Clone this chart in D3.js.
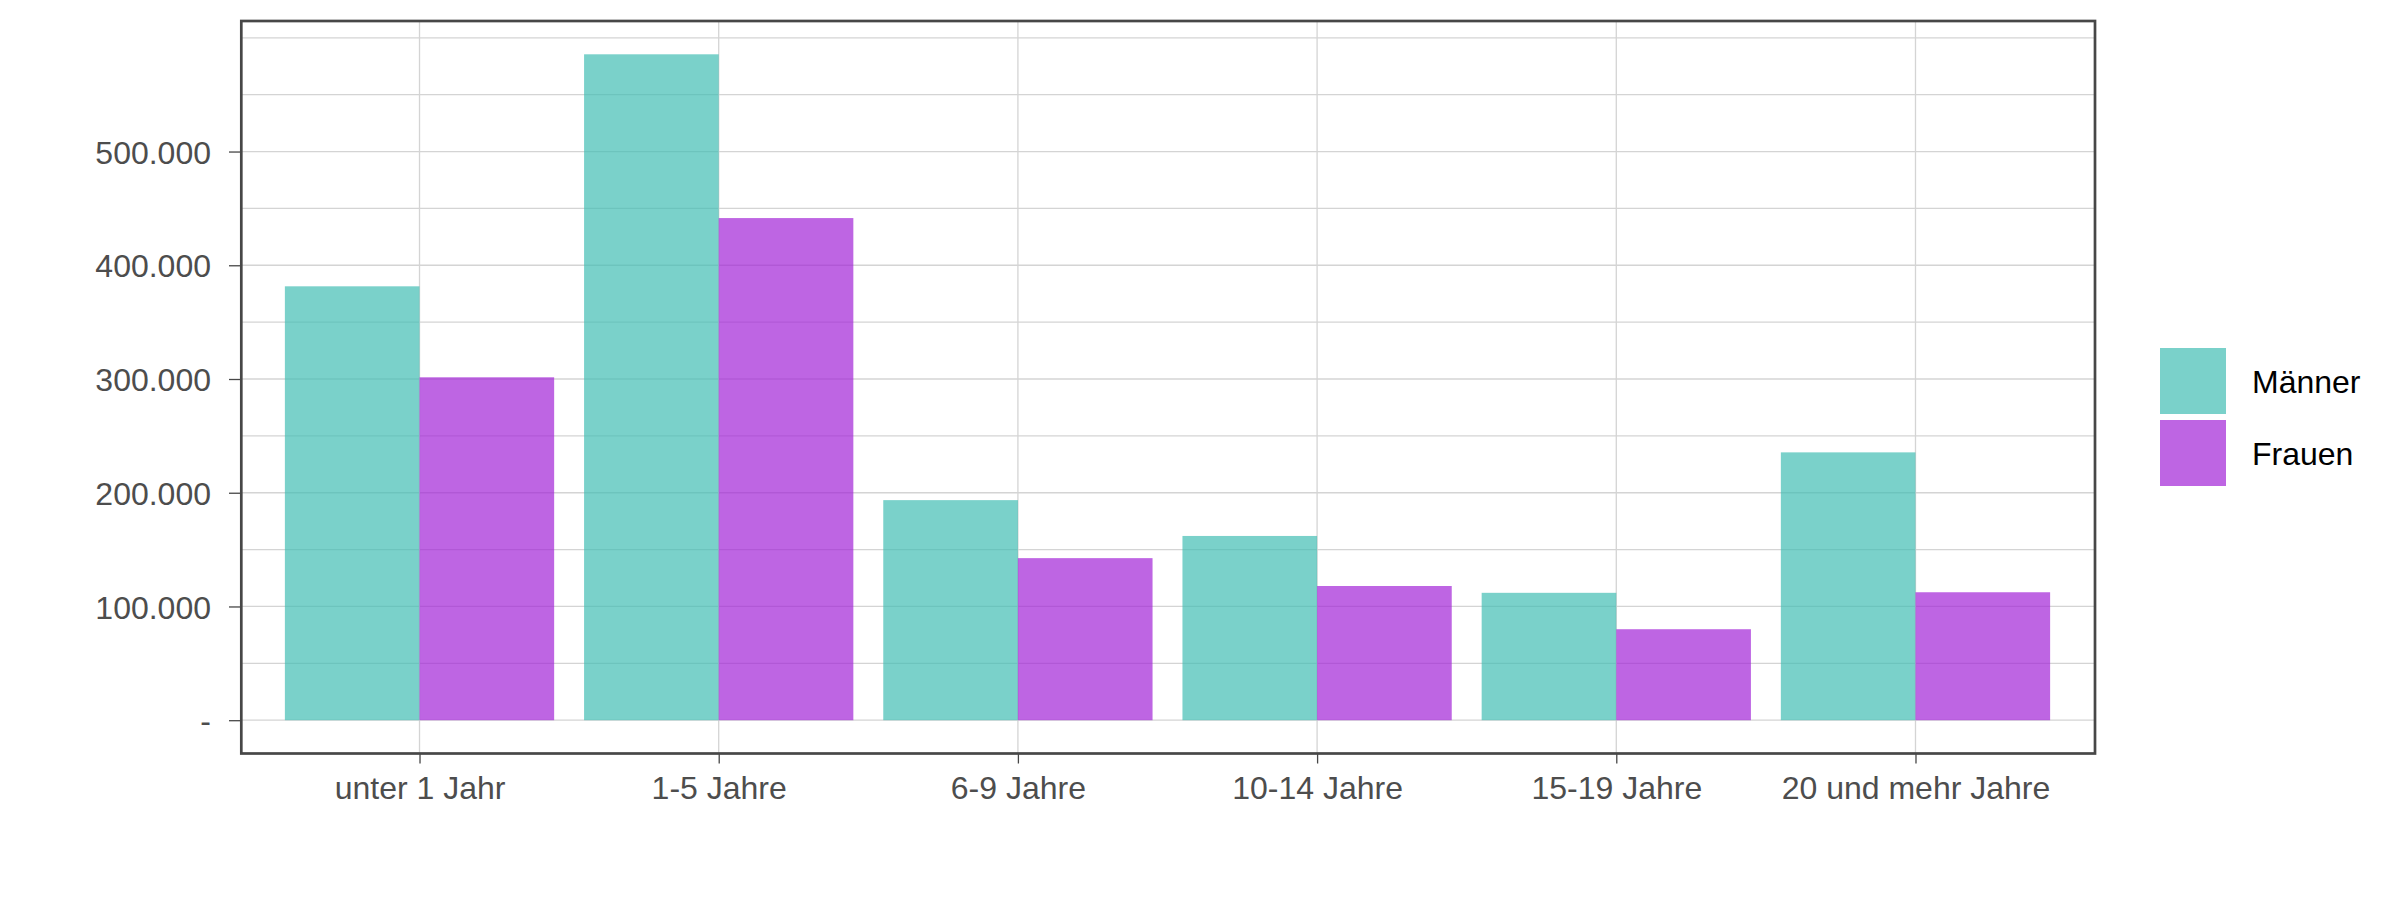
<!DOCTYPE html>
<html>
<head>
<meta charset="utf-8">
<script src="https://cdn.jsdelivr.net/npm/d3@7"></script>
<style>
  body { margin: 0; background: #fff; }
  svg { display: block; font-family: "Liberation Sans", Arial, sans-serif; }
</style>
</head>
<body>
<div id="chart"></div>
<script>
const categories = ['unter 1 Jahr', '1-5 Jahre', '6-9 Jahre', '10-14 Jahre', '15-19 Jahre', '20 und mehr Jahre'];
const series = ['Männer', 'Frauen'];
const maenner = [381500, 585500, 193500, 162000, 112000, 235500];
const frauen = [301500, 441500, 142500, 118000, 80000, 112500];
const yTicks = [0, 100000, 200000, 300000, 400000, 500000];
const yGrid = [0, 50000, 100000, 150000, 200000, 250000, 300000, 350000, 400000, 450000, 500000, 550000, 600000];

const colors = { 'Männer': '#41bdb3', 'Frauen': '#a224d7' };

const width = 2400;
const height = 900;
const panel = { left: 240, right: 2095, top: 21, bottom: 753.5 };

const de = d3.formatLocale({ decimal: ',', thousands: '.', grouping: [3], currency: ['', ' €'] });
const fmt = (d) => (d === 0 ? '-' : de.format(',d')(d));

const rows = categories.map((c, i) => ({ category: c, 'Männer': maenner[i], 'Frauen': frauen[i] }));

const svg = d3.select('#chart')
  .append('svg')
  .attr('width', width)
  .attr('height', height);

// scales, 5% expansion like ggplot
const maxVal = d3.max([...maenner, ...frauen]);
const yScale = d3.scaleLinear()
  .domain([-0.05 * maxVal, 1.05 * maxVal])
  .range([panel.bottom, panel.top]);

const xScale = d3.scalePoint()
  .domain(categories)
  .range([panel.left, panel.right])
  .padding(0.6);

const step = xScale.step();
const inner = d3.scaleBand()
  .domain(series)
  .range([-0.45 * step, 0.45 * step])
  .padding(0);

// gridlines
const grid = svg.append('g').attr('class', 'grid');
grid.selectAll('line.h')
  .data(yGrid)
  .join('line')
  .attr('class', 'h')
  .attr('x1', panel.left)
  .attr('x2', panel.right)
  .attr('y1', (d) => yScale(d))
  .attr('y2', (d) => yScale(d))
  .attr('stroke', '#d4d4d4')
  .attr('stroke-width', 1.3);

grid.selectAll('line.v')
  .data(categories)
  .join('line')
  .attr('class', 'v')
  .attr('x1', (d) => xScale(d))
  .attr('x2', (d) => xScale(d))
  .attr('y1', panel.top)
  .attr('y2', panel.bottom)
  .attr('stroke', '#d4d4d4')
  .attr('stroke-width', 1.3);

// bars
const groups = svg.append('g')
  .attr('class', 'bars')
  .selectAll('g')
  .data(rows)
  .join('g')
  .attr('transform', (d) => `translate(${xScale(d.category)},0)`);

groups.selectAll('rect')
  .data((d) => series.map((s) => ({ key: s, value: d[s] })))
  .join('rect')
  .attr('x', (d) => inner(d.key))
  .attr('width', inner.bandwidth())
  .attr('y', (d) => yScale(d.value))
  .attr('height', (d) => yScale(0) - yScale(d.value))
  .attr('fill', (d) => colors[d.key])
  .attr('fill-opacity', 0.7);

// axes
const yAxis = d3.axisLeft(yScale)
  .tickValues(yTicks)
  .tickFormat(fmt)
  .tickSize(11)
  .tickPadding(18);

const yG = svg.append('g')
  .attr('transform', `translate(${panel.left},0)`)
  .call(yAxis);
yG.select('.domain').remove();
yG.selectAll('line').attr('stroke', '#474747').attr('stroke-width', 1.3);
yG.selectAll('text')
  .attr('fill', '#4d4d4d')
  .style('font-size', '32px')
  .attr('dy', '0.36em');

const xAxis = d3.axisBottom(xScale)
  .tickSize(10)
  .tickPadding(12);

const xG = svg.append('g')
  .attr('transform', `translate(0,${panel.bottom})`)
  .call(xAxis);
xG.select('.domain').remove();
xG.selectAll('line').attr('stroke', '#474747').attr('stroke-width', 1.3);
xG.selectAll('text')
  .attr('fill', '#4d4d4d')
  .style('font-size', '32px')
  .attr('dy', '0.72em');

// panel border
svg.append('rect')
  .attr('x', panel.left + 1.3)
  .attr('y', panel.top)
  .attr('width', panel.right - panel.left - 1.3)
  .attr('height', panel.bottom - panel.top)
  .attr('fill', 'none')
  .attr('stroke', '#474747')
  .attr('stroke-width', 2.7);

// legend
const legend = svg.append('g')
  .attr('transform', 'translate(2160,348)');

const item = legend.selectAll('g')
  .data(series)
  .join('g')
  .attr('transform', (d, i) => `translate(0,${i * 72})`);

item.append('rect')
  .attr('width', 66)
  .attr('height', 66)
  .attr('fill', (d) => colors[d])
  .attr('fill-opacity', 0.7);

item.append('text')
  .attr('x', 92)
  .attr('y', 33)
  .attr('dy', '0.36em')
  .style('font-size', '32px')
  .attr('fill', '#000')
  .text((d) => d);
</script>
</body>
</html>
